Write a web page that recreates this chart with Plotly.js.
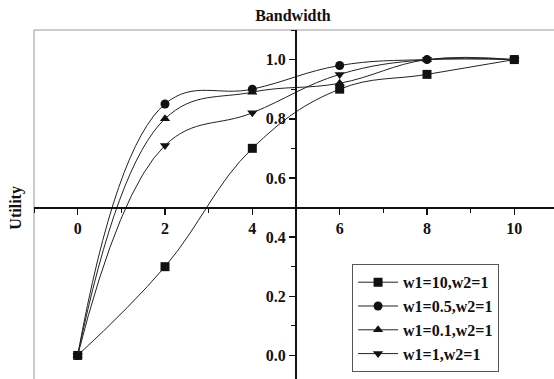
<!DOCTYPE html>
<html>
<head>
<meta charset="utf-8">
<script src="https://cdn.plot.ly/plotly-3.0.1.min.js"></script>
<style>
html, body { margin: 0; padding: 0; overflow: hidden; background: #fff; }
#chart { width: 558px; height: 385px; }
</style>
</head>
<body>
<div id="chart"></div>
<script>
const bandwidth = [0, 2, 4, 6, 8, 10];
const seriesNames = ['w1=10,w2=1', 'w1=0.5,w2=1', 'w1=0.1,w2=1', 'w1=1,w2=1'];
const utilW10 = [0, 0.30, 0.70, 0.90, 0.95, 1.0];
const utilW05 = [0, 0.85, 0.90, 0.98, 1.0, 1.0];
const utilW01 = [0, 0.80, 0.89, 0.92, 1.0, 1.0];
const utilW1  = [0, 0.71, 0.82, 0.95, 1.0, 1.0];
const symbols = ['square', 'circle', 'triangle-up', 'triangle-down'];
const xTicks = [0, 2, 4, 6, 8, 10];
const yTicks = [0, 0.2, 0.4, 0.6, 0.8, 1.0];

const serif = 'Liberation Serif, Times New Roman, serif';
const allY = [utilW10, utilW05, utilW01, utilW1];
const traces = allY.map((ys, i) => ({
  x: bandwidth,
  y: ys,
  name: seriesNames[i],
  type: 'scatter',
  mode: 'lines+markers',
  line: { shape: 'spline', smoothing: 1.15, color: '#222', width: 1 },
  marker: { symbol: symbols[i], size: 9, color: '#111' }
}));

const layout = {
  width: 558,
  height: 385,
  margin: { l: 34, r: 0, t: 30, b: 0 },
  paper_bgcolor: '#fff',
  plot_bgcolor: '#fff',
  showlegend: true,
  title: {
    text: 'Bandwidth',
    font: { family: serif, size: 16, weight: 'bold', color: '#111' },
    x: 0.525, xanchor: 'center', xref: 'container',
    y: 1 - 15 / 385, yanchor: 'middle', yref: 'container'
  },
  xaxis: {
    range: [-1, 11],
    anchor: 'free',
    position: 0.5,
    showgrid: false,
    zeroline: false,
    showline: true,
    linecolor: '#111',
    linewidth: 2,
    ticks: 'outside',
    ticklen: 6,
    tickwidth: 1.5,
    tickcolor: '#111',
    tickvals: xTicks,
    ticktext: xTicks.map(String),
    tickfont: { family: serif, size: 16, weight: 'bold', color: '#111' },
    minor: { dtick: 1, tick0: 1, ticks: 'outside', ticklen: 4, tickwidth: 1, tickcolor: '#111', showgrid: false }
  },
  yaxis: {
    range: [-0.1, 1.1],
    anchor: 'free',
    position: 0.5,
    side: 'left',
    showgrid: false,
    zeroline: false,
    showline: true,
    linecolor: '#111',
    linewidth: 2,
    ticks: 'outside',
    ticklen: 6,
    tickwidth: 1.5,
    tickcolor: '#111',
    tickvals: yTicks,
    ticktext: yTicks.map(v => v.toFixed(1)),
    tickfont: { family: serif, size: 16, weight: 'bold', color: '#111' },
    minor: { dtick: 0.1, tick0: 0.1, ticks: 'outside', ticklen: 4, tickwidth: 1, tickcolor: '#111', showgrid: false }
  },
  legend: {
    x: 0.607, y: 0.34, xanchor: 'left', yanchor: 'top',
    bgcolor: '#fff',
    bordercolor: '#555',
    borderwidth: 1,
    itemwidth: 40,
    font: { family: serif, size: 16, weight: 'bold', color: '#111' },
    tracegroupgap: 0
  },
  shapes: [{
    type: 'rect', xref: 'paper', yref: 'paper',
    x0: 0, x1: 1, y0: 0, y1: 1,
    line: { color: '#999', width: 1 },
    layer: 'below'
  }],
  annotations: [{
    text: 'Utility',
    xref: 'paper', yref: 'paper',
    x: -0.036, y: 0.5,
    xanchor: 'center', yanchor: 'middle',
    textangle: -90,
    showarrow: false,
    font: { family: serif, size: 16, weight: 'bold', color: '#111' }
  }]
};

Plotly.newPlot('chart', traces, layout, { displayModeBar: false, staticPlot: true });
</script>
</body>
</html>
